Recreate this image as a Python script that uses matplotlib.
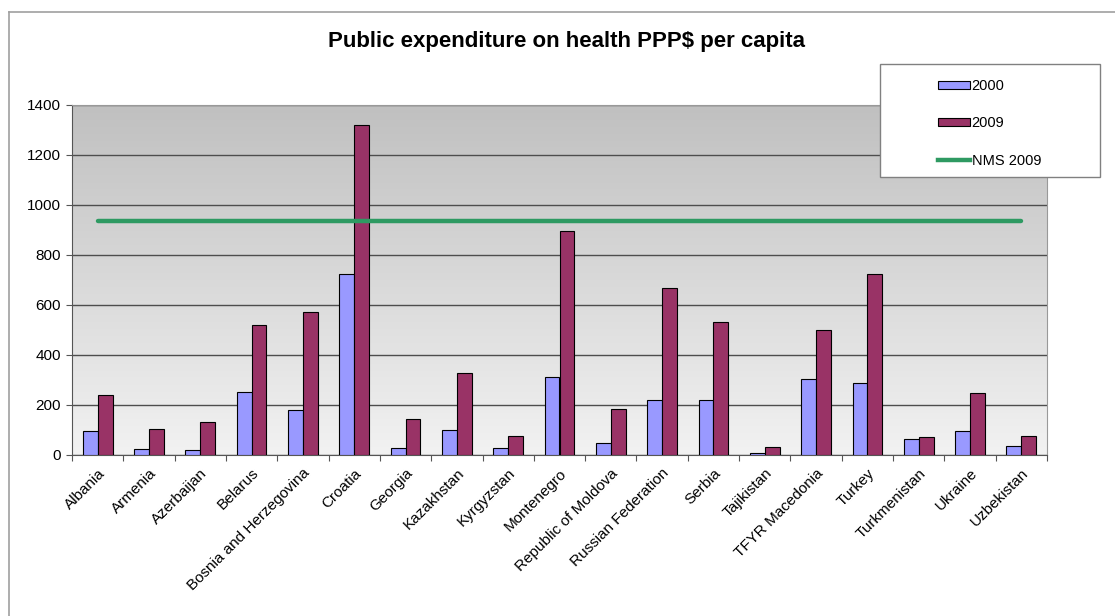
import matplotlib
matplotlib.use("Agg")
import matplotlib.pyplot as plt
import numpy as np
from matplotlib.patches import Rectangle, Patch
from matplotlib.lines import Line2D

plt.rcParams['font.family'] = ['Liberation Sans', 'DejaVu Sans']

countries = ['Albania', 'Armenia', 'Azerbaijan', 'Belarus', 'Bosnia and Herzegovina',
             'Croatia', 'Georgia', 'Kazakhstan', 'Kyrgyzstan', 'Montenegro',
             'Republic of Moldova', 'Russian Federation', 'Serbia', 'Tajikistan',
             'TFYR Macedonia', 'Turkey', 'Turkmenistan', 'Ukraine', 'Uzbekistan']
y2000 = [97, 24, 20, 251, 182, 725, 27, 100, 29, 313, 49, 221, 221, 9, 303, 289, 65, 97, 36]
y2009 = [242, 105, 133, 519, 571, 1319, 145, 330, 77, 895, 184, 667, 532, 33, 502, 725, 73, 247, 77]
nms2009 = 938

W, H = 1115, 616
fig = plt.figure(figsize=(W / 100, H / 100), dpi=100)
ax = fig.add_axes([72 / W, 1 - 455 / H, 975 / W, 350 / H])

x = np.arange(len(countries))
bw = 0.29

# gradient plot area
grad = np.linspace(0, 1, 256).reshape(-1, 1)
ax.imshow(grad, cmap=matplotlib.colors.LinearSegmentedColormap.from_list('g', ['#c0c0c0', '#f2f2f2']),
          extent=[-0.5, len(countries) - 0.5, 0, 1400], aspect='auto', origin='upper', zorder=0)

ax.bar(x - bw / 2, y2000, bw, color='#9999ff', edgecolor='black', linewidth=0.8, zorder=3)
ax.bar(x + bw / 2, y2009, bw, color='#993366', edgecolor='black', linewidth=0.8, zorder=3)
ax.plot(x, [nms2009] * len(x), color='#2e9a62', linewidth=3.2, zorder=4, solid_capstyle='round')

ax.set_xlim(-0.5, len(countries) - 0.5)
ax.set_ylim(0, 1400)
ax.set_yticks(range(0, 1401, 200))
ax.yaxis.grid(True, color='#4d4d4d', linewidth=1.0, zorder=1)
ax.set_axisbelow(True)
ax.tick_params(axis='y', length=4, width=0.8, color='#555555', labelsize=11, pad=4)

ax.set_xticks(x)
ax.set_xticklabels(countries, rotation=45, ha='right', rotation_mode='anchor', fontsize=11)
ax.set_xticks(np.arange(-0.5, len(countries)), minor=True)
ax.tick_params(axis='x', which='major', length=0, pad=8)
ax.tick_params(axis='x', which='minor', length=4, width=0.8, color='#555555')

for s in ['left', 'bottom']:
    ax.spines[s].set_color('#555555')
for s in ['top', 'right']:
    ax.spines[s].set_color('#999999')

fig.text(566 / W, 1 - 41 / H, 'Public expenditure on health PPP$ per capita',
         ha='center', va='center', fontsize=16, fontweight='bold')

# outer chart frame
fig.add_artist(Line2D([9 / W, 9 / W], [0, 1 - 12 / H], color='#a0a0a0', lw=1.2, transform=fig.transFigure))
fig.add_artist(Line2D([9 / W, 1], [1 - 12 / H, 1 - 12 / H], color='#a0a0a0', lw=1.2, transform=fig.transFigure))

# legend box
fig.add_artist(Rectangle((880 / W, 1 - 177 / H), 220 / W, 113 / H, transform=fig.transFigure,
                         facecolor='white', edgecolor='#808080', lw=1.0, zorder=5))
handles = [Patch(facecolor='#9999ff', edgecolor='black', lw=0.8),
           Patch(facecolor='#993366', edgecolor='black', lw=0.8),
           Line2D([], [], color='#2e9a62', lw=3.2)]
leg = fig.legend(handles, ['2000', '2009', 'NMS 2009'], loc='upper left',
                 bbox_to_anchor=(925 / W, 1 - 66 / H), frameon=False, fontsize=10.5,
                 handlelength=2.2, handleheight=0.5, handletextpad=0.1, labelspacing=1.6)
leg.set_zorder(6)

fig.savefig('out.png', dpi=100)
